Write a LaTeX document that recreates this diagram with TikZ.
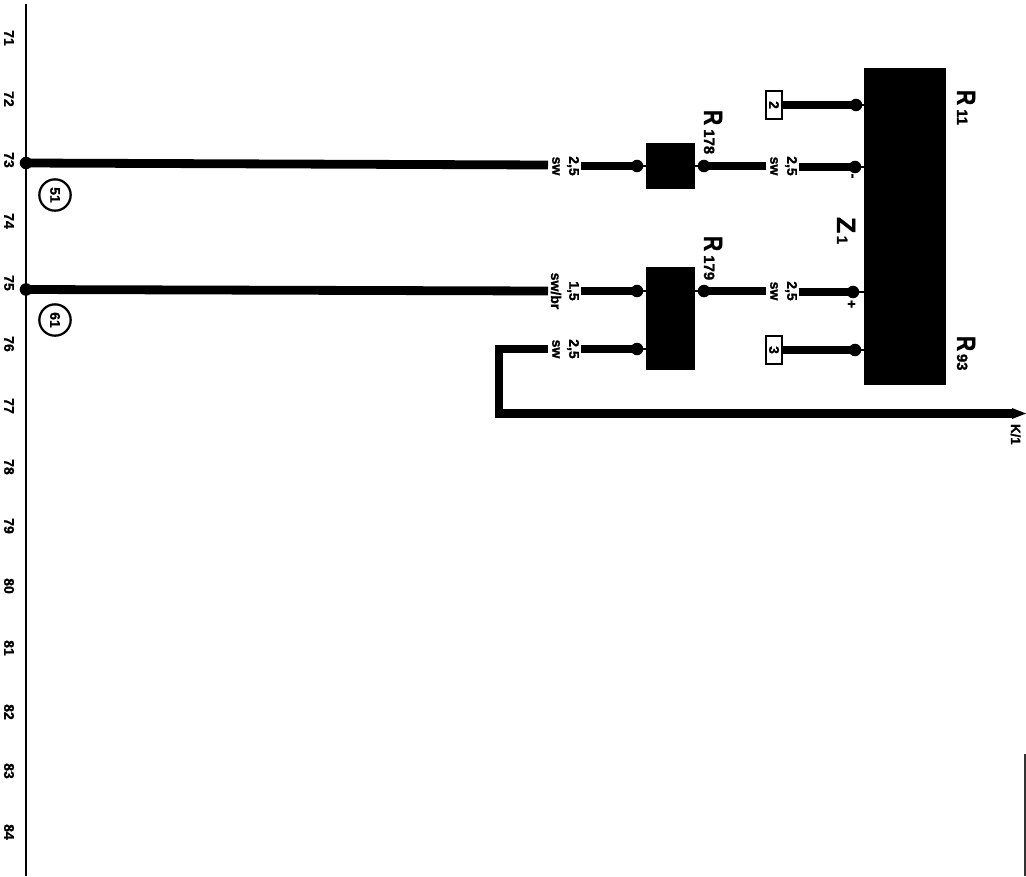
\documentclass[tikz,border=0pt]{standalone}
\usepackage{graphicx}
\usepackage{fontspec}
\setmainfont{Liberation Sans}[BoldFeatures={FakeBold=1.2}]
\newcommand{\bigR}{{\fontsize{19.8}{20}\selectfont\bfseries\scalebox{0.8}[1]{R}}}
\newcommand{\subn}[1]{{\fontsize{11.2}{12}\selectfont\bfseries #1}}
\tikzset{
  x=0.75pt,y=-0.75pt,
  rtext/.style={rotate=-90,anchor=base west,inner sep=0pt,outer sep=0pt,font=\fontsize{10.5}{12}\selectfont\bfseries},
  rcenter/.style={rotate=-90,anchor=center,inner sep=0pt,outer sep=0pt,font=\fontsize{10.5}{12}\selectfont\bfseries},
  blackbox/.style={fill=black,draw=none},
  dotnode/.style={circle,fill=black,draw=none,inner sep=0pt,minimum size=9.4pt},
  wire/.style={line width=6.6pt,line cap=butt,line join=miter},
  wirethin/.style={line width=6pt,line cap=butt,line join=miter},
  rail/.style={line width=1.6pt,line cap=butt},
  tagbox/.style={draw=black,fill=white,line width=1.3pt,minimum width=12pt,minimum height=21.5pt,inner sep=0pt,outer sep=0pt},
  refcircle/.style={circle,draw=black,line width=1.7pt,minimum size=23.5pt,inner sep=0pt}
}
\begin{document}
\begin{tikzpicture}
\useasboundingbox (0,0) rectangle (1026,876);
\fill[white] (0,0) rectangle (1026,876);

% left rail
\coordinate (railtop) at (26,4);
\coordinate (railbot) at (26,876);
\draw[rail] (railtop) -- (railbot);
% right edge fragment
\coordinate (edgetop) at (1025,754);
\coordinate (edgebot) at (1025,876);
\draw[line width=1.2pt,black!80] (edgetop) -- (edgebot);

% boxes
\path[blackbox] (864,68) rectangle (946,385);
\node[blackbox,minimum width=36.75pt,minimum height=34.5pt,inner sep=0pt] (r178) at (670.5,166) {};
\node[blackbox,minimum width=36.75pt,minimum height=77.25pt,inner sep=0pt] (r179) at (670.5,318.5) {};
\node[tagbox] (tag2) at (774,105) {};
\node[rcenter] at (tag2) {2};
\node[tagbox] (tag3) at (774,350) {};
\node[rcenter] at (tag3) {3};

% dots
\node[dotnode] (d73) at (26,163) {};
\node[dotnode] (d75) at (26,289.5) {};
\node[dotnode] (a1) at (637,166) {};
\node[dotnode] (a2) at (704,166) {};
\node[dotnode] (b1) at (637,291) {};
\node[dotnode] (b2) at (704,291) {};
\node[dotnode] (c1) at (637,349) {};
\node[dotnode] (z1) at (856,105) {};
\node[dotnode] (z2) at (855,167) {};
\node[dotnode] (z3) at (853,292) {};
\node[dotnode] (z4) at (855,350) {};

% wire ends
\coordinate (w1a) at (548,165);
\coordinate (w1b) at (581,166);
\coordinate (w2a) at (766,166);
\coordinate (w2b) at (799,167);
\coordinate (w3a) at (548,291);
\coordinate (w3b) at (581,291);
\coordinate (w4a) at (766,291);
\coordinate (w4b) at (799,292);
\coordinate (w5a) at (548,349);
\coordinate (w5b) at (581,349);
\coordinate (turn1) at (499,349);
\coordinate (turn2) at (499,413.5);
\coordinate (kend) at (1014,413.5);

% wires
\draw[wire] (d73.center) -- (w1a);
\draw[wire] (w1b) -- (a1.center);
\draw[wire] (a2.center) -- (w2a);
\draw[wire] (w2b) -- (z2.center);
\draw[wirethin] (tag2.east) -- (z1.center);
\draw[wire] (d75.center) -- (w3a);
\draw[wire] (w3b) -- (b1.center);
\draw[wire] (b2.center) -- (w4a);
\draw[wire] (w4b) -- (z3.center);
\draw[wirethin] (tag3.east) -- (z4.center);
\draw[wire] (w5b) -- (c1.center);
\draw[wire] (w5a) -- (turn1) -- (turn2) -- (kend);
\fill (1012,408) -- (1026,413.5) -- (1012,419) -- cycle;

% short stubs dot to box
\draw[line width=1.5pt] (a1.center) -- (r178.west |- a1);
\draw[line width=1.5pt] (a2.center) -- (r178.east |- a2);
\draw[line width=1.5pt] (b1.center) -- (r179.west |- b1);
\draw[line width=1.5pt] (b2.center) -- (r179.east |- b2);
\draw[line width=1.5pt] (c1.center) -- (r179.west |- c1);
\draw[line width=2pt] (z1.center) -- (864,105);
\draw[line width=2pt] (z2.center) -- (864,167);
\draw[line width=2pt] (z3.center) -- (864,292);
\draw[line width=2pt] (z4.center) -- (864,350);

% wire labels
\node[rcenter] at (556,166) {sw};
\node[rcenter] at (573,166) {2,5};
\node[rcenter] at (774,166) {sw};
\node[rcenter] at (791,166) {2,5};
\node[rcenter] at (556,291) {sw/br};
\node[rcenter] at (573,291) {1,5};
\node[rcenter] at (774,291) {sw};
\node[rcenter] at (791,291) {2,5};
\node[rcenter] at (556,349) {sw};
\node[rcenter] at (573,349) {2,5};
\node[rcenter] at (851,176) {-};
\node[rcenter] at (851,304) {+};

% component labels
\node[rtext] at (957,90) {\bigR\hspace{3pt}\subn{11}};
\node[rtext] at (704,110) {\bigR\hspace{3pt}\subn{178}};
\node[rtext] at (704,236) {\bigR\hspace{3pt}\subn{179}};
\node[rtext] at (957,336) {\bigR\hspace{2pt}\subn{93}};
\node[rtext] at (837,217) {{\fontsize{19.8}{20}\selectfont Z}\hspace{2pt}\subn{1}};
\node[rtext,font=\fontsize{10}{12}\selectfont\bfseries] at (1011,424) {K/1};

% reference circles
\node[refcircle] (c51) at (55,195) {};
\node[rcenter] at (c51) {51};
\node[refcircle] (c61) at (55,320) {};
\node[rcenter] at (c61) {61};

% column numbers
\foreach \n/\yy in {71/38,72/99,73/160,74/221,75/283,76/344,77/406,78/467,79/526,80/586,81/648,82/712,83/771,84/832}
  \node[rcenter] at (9,\yy) {\n};
\end{tikzpicture}
\end{document}
